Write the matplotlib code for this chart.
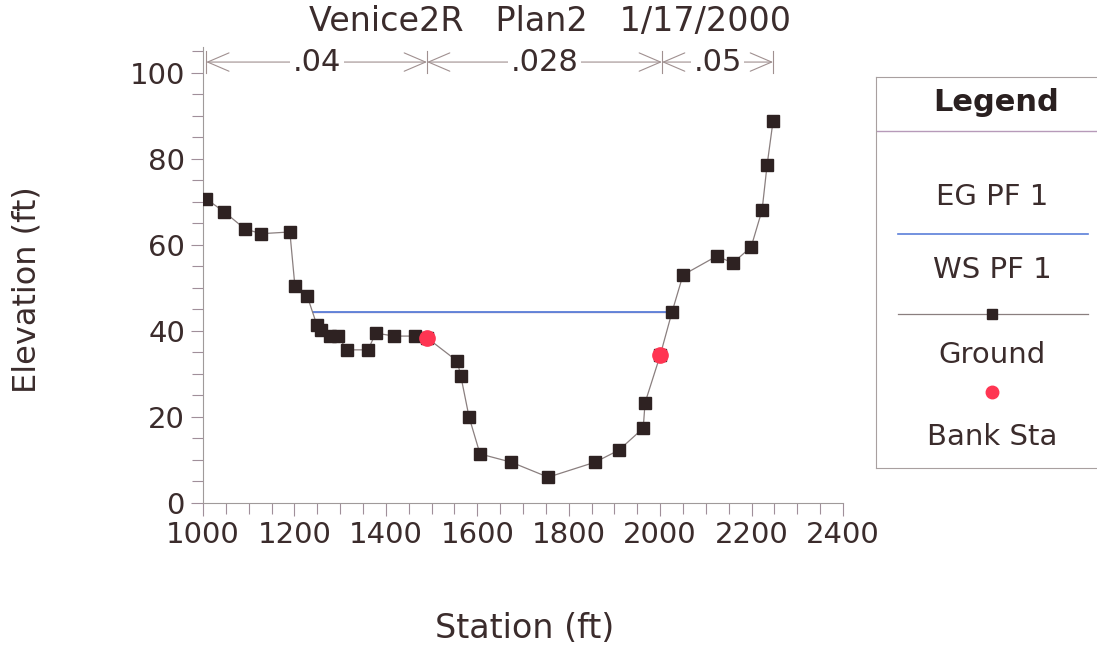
import matplotlib
matplotlib.use('Agg')
import matplotlib.pyplot as plt
from matplotlib.ticker import MultipleLocator

plt.rcParams['font.family'] = ['DejaVu Sans']

# ground profile (station ft, elevation ft)
station = [1007, 1046, 1092, 1127, 1190, 1201, 1228, 1249, 1258, 1278, 1295,
           1315, 1361, 1378, 1418, 1464, 1490, 1556, 1564, 1582, 1606, 1674,
           1755, 1858, 1910, 1963, 1967, 2000, 2026, 2050, 2124, 2159, 2199,
           2223, 2234, 2247]
elevation = [70.7, 67.7, 63.7, 62.6, 63.0, 50.5, 48.1, 41.4, 40.2, 38.8, 38.8,
             35.6, 35.6, 39.5, 38.8, 38.8, 38.4, 33.0, 29.5, 20.0, 11.4, 9.5,
             6.0, 9.5, 12.3, 17.4, 23.3, 34.3, 44.4, 53.0, 57.4, 55.8, 59.5,
             68.1, 78.6, 88.8]

bank_station = [1490, 2000]
bank_elev = [38.4, 34.3]

ws_station = [1241, 2026]
ws_elev = [44.5, 44.5]
eg_elev = [44.5, 44.5]

# manning's n zones
n_bounds = [1007, 1490, 2004, 2247]
n_values = ['.04', '.028', '.05']

legend_labels = ['EG PF 1', 'WS PF 1', 'Ground', 'Bank Sta']

txt = '#3b2c2c'
W, H = 1097, 650
fig = plt.figure(figsize=(W / 100, H / 100), dpi=100)
fig.patch.set_facecolor('white')

x0, x1 = 203, 843
y0, y1 = 503, 47
ax = fig.add_axes([x0 / W, (H - y0) / H, (x1 - x0) / W, (y0 - y1) / H])
ax.set_xlim(1000, 2400)
ax.set_ylim(0, 106)

ax.plot(ws_station, eg_elev, color='#b79ab9', lw=1.0, zorder=2)
ax.plot(ws_station, ws_elev, color='#5b7fd9', lw=1.3, zorder=3)
ax.plot(station, elevation, color='#8a7f7f', lw=0.9, marker='s', ms=9,
        mfc='#2e2222', mec='#2e2222', zorder=4)
ax.plot(bank_station, bank_elev, 'o', color='#ff3552', ms=11, zorder=5)

for s in ['top', 'right']:
    ax.spines[s].set_visible(False)
for s in ['left', 'bottom']:
    ax.spines[s].set_color('#a09a9a')
    ax.spines[s].set_linewidth(0.8)

ax.xaxis.set_major_locator(MultipleLocator(200))
ax.xaxis.set_minor_locator(MultipleLocator(50))
ax.yaxis.set_major_locator(MultipleLocator(20))
ax.yaxis.set_minor_locator(MultipleLocator(5))
ax.tick_params(which='both', direction='out', color='#a08f9a', width=0.8,
               labelsize=21, labelcolor=txt)
ax.tick_params(which='major', length=9, pad=4)
ax.tick_params(which='minor', length=8)

fig.text(525 / W, 1 - 628 / H, 'Station (ft)', ha='center', va='center',
         fontsize=24, color=txt)
fig.text(27 / W, 1 - 290 / H, 'Elevation (ft)', ha='center', va='center',
         rotation=90, fontsize=23, color=txt)

# title and n-value annotation
fig.text(550 / W, 1 - 21 / H, 'Venice2R   Plan2   1/17/2000', ha='center',
         va='center', fontsize=24, color=txt)
n_y = 102.5
for i, nv in enumerate(n_values):
    a, b = n_bounds[i], n_bounds[i + 1]
    mid = (a + b) / 2
    for end in (a, b):
        ax.annotate('', xy=(end, n_y), xytext=(mid, n_y),
                    annotation_clip=False,
                    arrowprops=dict(arrowstyle='->,head_length=0.7,head_width=0.3',
                                    color='#a09090', lw=0.8,
                                    mutation_scale=22, shrinkA=0, shrinkB=0))
    ax.text(mid, n_y, nv, ha='center', va='center', fontsize=22, color=txt,
            bbox=dict(fc='white', ec='none', pad=2), zorder=6)
for b in n_bounds:
    ax.plot([b, b], [n_y - 2.5, n_y + 2.5], color='#a09090', lw=0.8,
            clip_on=False)

# legend panel (runs off the right edge of the scan)
lx0, lx1, ly0, ly1 = 876, 1130, 77, 468
lax = fig.add_axes([lx0 / W, (H - ly1) / H, (lx1 - lx0) / W, (ly1 - ly0) / H])
lax.set_xlim(lx0, lx1)
lax.set_ylim(ly1, ly0)
lax.set_xticks([])
lax.set_yticks([])
for s in lax.spines.values():
    s.set_color('#a8a0a0')
    s.set_linewidth(0.8)
lax.spines['right'].set_visible(False)
lax.text(996, 103, 'Legend', ha='center', va='center', fontsize=22,
         fontweight='bold', color='#2a2020')
lax.plot([lx0, lx1], [131, 131], color='#b79ab9', lw=1.0)
label_y = [197, 270, 355, 437]
for lab, yy in zip(legend_labels, label_y):
    lax.text(992, yy, lab, ha='center', va='center', fontsize=21, color=txt)
lax.plot([898, 1088], [234, 234], color='#5b7fd9', lw=1.2)
lax.plot([898, 1088], [314, 314], color='#8a7f7f', lw=0.9)
lax.plot([992], [314], 's', color='#2e2222', ms=7)
lax.plot([992], [392], 'o', color='#ff3552', ms=9)

fig.savefig('out.png', dpi=100)
